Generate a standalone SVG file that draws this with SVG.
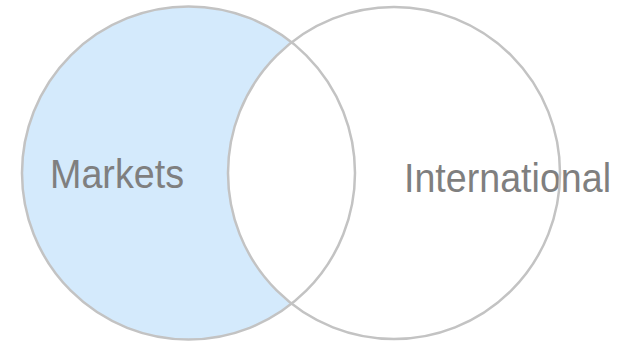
<svg xmlns="http://www.w3.org/2000/svg" width="636" height="342" viewBox="0 0 636 342">
<style>
.ring{fill:none;stroke:#c3c3c3;stroke-width:2.5}
.lbl{font-family:"Liberation Sans",Arial,sans-serif;font-size:41px;fill:#7f7f7f}
</style>
<rect width="636" height="342" fill="#ffffff"/>
<g id="markets">
<path d="M291.25 42.3 A166.5 166.5 0 1 0 291.25 303.7 A166 166 0 0 1 291.25 42.3 Z" fill="#d4eafc"/>
<text class="lbl" x="50" y="188" textLength="134" lengthAdjust="spacingAndGlyphs">Markets</text>
<circle class="ring" cx="188.5" cy="173" r="166.5"/>
</g>
<g id="international">
<text class="lbl" x="404" y="192" textLength="207" lengthAdjust="spacingAndGlyphs">International</text>
<circle class="ring" cx="394" cy="173" r="166"/>
</g>
<g id="connectors"></g>
</svg>
